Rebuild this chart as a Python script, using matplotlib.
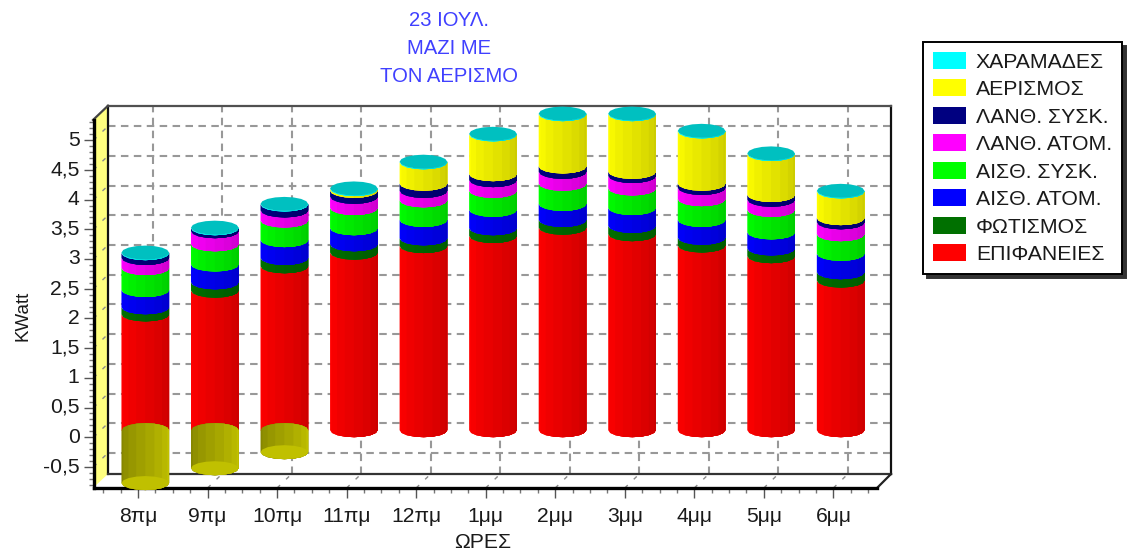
import numpy as np
import matplotlib
matplotlib.use("Agg")
import matplotlib.pyplot as plt
from matplotlib.patches import Polygon, Patch
from matplotlib.transforms import offset_copy, ScaledTranslation
from matplotlib.ticker import MultipleLocator

plt.rcParams['font.family'] = ['Liberation Sans', 'DejaVu Sans']

hours = ['8πμ','9πμ','10πμ','11πμ','12πμ','1μμ','2μμ','3μμ','4μμ','5μμ','6μμ']
epifaneies = [1.95,2.35,2.76,2.99,3.10,3.27,3.41,3.30,3.11,2.93,2.52]
fotismos   = [0.12,0.14,0.14,0.14,0.13,0.13,0.13,0.14,0.13,0.13,0.14]
aisth_atom = [0.29,0.30,0.30,0.27,0.31,0.31,0.27,0.30,0.30,0.27,0.31]
aisth_sysk = [0.37,0.34,0.33,0.34,0.33,0.32,0.34,0.33,0.35,0.38,0.33]
lanth_atom = [0.17,0.22,0.17,0.19,0.16,0.18,0.20,0.21,0.19,0.17,0.20]
lanth_sysk = [0.08,0.05,0.10,0.10,0.12,0.10,0.09,0.07,0.07,0.08,0.07]
aerismos   = [-0.89,-0.64,-0.37,0.03,0.36,0.67,0.88,0.97,0.88,0.69,0.45]
xaramades  = [0.01,0.01,0.01,0.01,0.01,0.01,0.01,0.01,0.01,0.01,0.01]

series = [
    ('ΕΠΙΦΑΝΕΙΕΣ', epifaneies, '#ff0000'),
    ('ΦΩΤΙΣΜΟΣ', fotismos, '#007000'),
    ('ΑΙΣΘ. ΑΤΟΜ.', aisth_atom, '#0000ff'),
    ('ΑΙΣΘ. ΣΥΣΚ.', aisth_sysk, '#00ff00'),
    ('ΛΑΝΘ. ΑΤΟΜ.', lanth_atom, '#ff00ff'),
    ('ΛΑΝΘ. ΣΥΣΚ.', lanth_sysk, '#000080'),
    ('ΑΕΡΙΣΜΟΣ', aerismos, '#ffff00'),
    ('ΧΑΡΑΜΑΔΕΣ', xaramades, '#00ffff'),
]

W, H = 1130, 556
fig = plt.figure(figsize=(W/100, H/100), dpi=100, facecolor='white')

def rect(l, t, r, b):
    return [l/W, 1-b/H, (r-l)/W, (b-t)/H]

XLIM = (-0.64, 10.62)
YLIM = (-0.855, 5.345)

back = fig.add_axes(rect(108, 105.7, 891, 474), zorder=1)
back.set_xlim(XLIM); back.set_ylim(YLIM)
back.set_xticks(range(len(hours))); back.set_yticks(np.arange(-0.5, 5.01, 0.5))
back.tick_params(length=0, labelleft=False, labelbottom=False)
DASH = (0, (3.6, 2.6))
back.grid(True, color='#989898', lw=1.5, linestyle=DASH)
back.set_axisbelow(True)
for s, c in (('top', '#505050'), ('left', '#111111'), ('right', '#111111'), ('bottom', '#333333')):
    back.spines[s].set_color(c); back.spines[s].set_linewidth(1.6)

ax = fig.add_axes(rect(93.5, 119.7, 876.5, 488), zorder=2)
ax.patch.set_visible(False)
ax.set_xlim(XLIM); ax.set_ylim(YLIM)
ax.spines['top'].set_visible(False); ax.spines['right'].set_visible(False)
for s in ('left', 'bottom'):
    ax.spines[s].set_linewidth(2.4); ax.spines[s].set_color('black')
ax.set_xticks(range(len(hours))); ax.set_xticklabels(hours)
yt = np.arange(-0.5, 5.01, 0.5)
ax.set_yticks(yt)
ax.set_yticklabels([f'{v:g}'.replace('.', ',') for v in yt])
ax.xaxis.set_minor_locator(MultipleLocator(0.25))
ax.yaxis.set_minor_locator(MultipleLocator(0.1))
TICKFS = 15.2
ax.tick_params(which='major', length=7, width=1, color='#555555', labelsize=TICKFS, labelcolor='#1a1a1a')
ax.tick_params(axis='x', which='major', pad=7)
ax.tick_params(axis='y', which='major', pad=3)
ax.tick_params(which='minor', length=3.5, width=1, color='#777777')
up = ScaledTranslation(0, 1.5/72, fig.dpi_scale_trans)
for lab in ax.get_yticklabels():
    lab.set_transform(lab.get_transform() + up)
ax.set_xlabel('ΩΡΕΣ', fontsize=TICKFS, color='#1a1a1a')
ax.xaxis.set_label_coords(483/W, 1-542/H, transform=fig.transFigure)
ax.xaxis.label.set_va('center')
ax.set_ylabel('KWatt', fontsize=13.5, color='#1a1a1a')
ax.yaxis.set_label_coords(23/W, 1-316/H, transform=fig.transFigure)
ax.yaxis.label.set_va('center')

def P(x, y):
    return (x/W, 1-y/H)

back.add_patch(Polygon([P(93, 120), P(108, 105.7), P(108, 474), P(93, 488)], closed=True,
                       transform=fig.transFigure, facecolor='#ffff80', edgecolor='none',
                       clip_on=False, zorder=0.5))
for a, b, c in ((P(93, 120), P(108, 105.7), '#444444'), (P(877, 488), P(891, 474), '#222222')):
    ax.plot([a[0], b[0]], [a[1], b[1]], transform=fig.transFigure, color=c, lw=1.6, clip_on=False, zorder=1.5)

DX = 14.5/69.55
DY = 14/59.4
for v in yt:
    ax.plot([XLIM[0], XLIM[0]+DX], [v, v+DY], color='#8a8a8a', lw=1, linestyle=(0, (3, 6)), clip_on=False, zorder=1)
for i in range(len(hours)):
    ax.plot([i, i+DX], [YLIM[0], YLIM[0]+DY], color='#8a8a8a', lw=1, linestyle=(0, (3, 6)), clip_on=False, zorder=1)

R = 23.8/69.55
EH = 7.0/59.4
N = 8
bar_tr = offset_copy(ax.transData, fig=fig, x=7.25, y=7.0, units='dots')
theta = np.linspace(0, np.pi, N+1)
cos_t = np.cos(theta)
sin_t = np.sin(theta)

def shade(color, k, lo=1.0, hi=0.80):
    rgb = np.array(matplotlib.colors.to_rgb(color))
    return tuple(rgb*(lo+(hi-lo)*k/(N-1)))

def band(cx, k, low, high, low_sign, high_sign, col):
    # every band runs on to the right edge; the next band paints over it, so no seams show
    xs = cx - R*cos_t[k:]
    yl = low + low_sign*EH*sin_t[k:]
    yh = high + high_sign*EH*sin_t[k:]
    ax.fill(np.r_[xs, xs[::-1]], np.r_[yl, yh[::-1]], transform=bar_tr,
            facecolor=col, edgecolor='none', lw=0, clip_on=False, zorder=5)

def cap(cx, v, col):
    t = np.linspace(0, 2*np.pi, 2*N+1)
    ax.fill(cx - R*np.cos(t), v + EH*np.sin(t), transform=bar_tr, facecolor=col,
            edgecolor='none', lw=0, clip_on=False, zorder=5.1)

for i in range(len(hours)):
    base = 0.0
    for name, vals, col in series:
        v = vals[i]
        if v <= 0:
            continue
        for k in range(N):
            band(i, k, base, base+v, -1, -1, shade(col, k))
        base += v
    cap(i, base, '#00c0c0')
    neg = aerismos[i]
    if neg < 0:
        for k in range(N):
            c = shade('#c0c000', N-1-k, 1.0, 0.70)
            band(i, k, neg, 0.0, -1, 1, c)
        cap(i, neg, '#c0c000')

for txt, y in (('23 ΙΟΥΛ.', 21), ('ΜΑΖΙ ΜΕ', 49), ('ΤΟΝ ΑΕΡΙΣΜΟ', 77)):
    fig.text(449/W, 1-y/H, txt, color='#4040ff', fontsize=14.6, ha='center', va='center')

handles = [Patch(facecolor=c, edgecolor='none', label=n) for n, _, c in reversed(series)]
leg = fig.legend(handles=handles, loc='upper left', bbox_to_anchor=(923/W, 1-42/H), borderaxespad=0,
                 fontsize=15.3, frameon=True, fancybox=False, edgecolor='black', facecolor='white',
                 framealpha=1, handlelength=1.55, handleheight=0.85, handletextpad=0.47,
                 labelspacing=0.36, borderpad=0.47, labelcolor='#1a1a1a',
                 shadow={'ox': 3, 'oy': -3, 'facecolor': '#333333', 'edgecolor': '#333333', 'alpha': 1})
leg.get_frame().set_linewidth(1.4)

fig.savefig('out.png', dpi=100)
